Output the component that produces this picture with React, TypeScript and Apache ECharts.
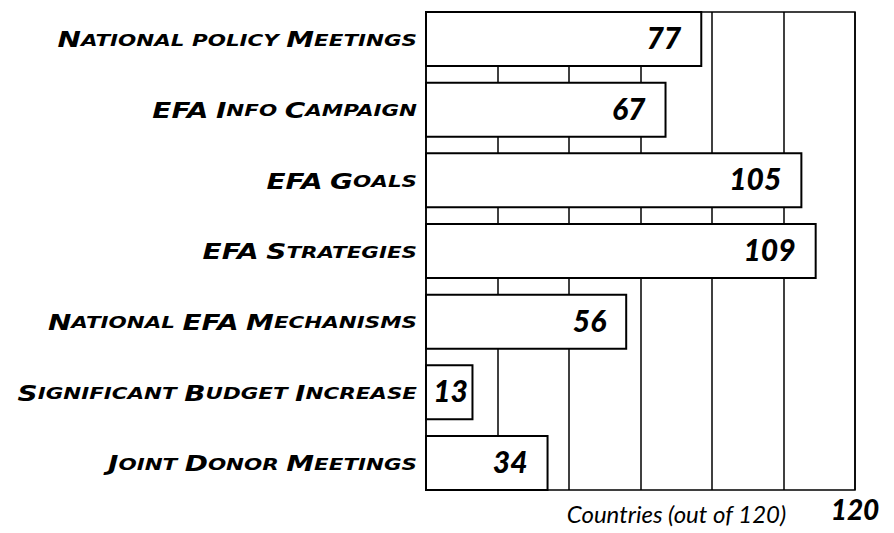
import React, { useEffect, useRef } from "react";
import * as echarts from "echarts";

const categories = [
  "National policy Meetings",
  "EFA Info Campaign",
  "EFA Goals",
  "EFA Strategies",
  "National EFA Mechanisms",
  "Significant Budget Increase",
  "Joint Donor Meetings",
];
const values = [77, 67, 105, 109, 56, 13, 34];
const axisMax = 120;
const axisInterval = 20;
const axisName = "Countries (out of 120)";

const NUM_FONT = "Lato, 'Open Sans', sans-serif";
const CAT_FONT = "'DejaVu Sans', Verdana, sans-serif";
const BAR_SPAN = 0.764;

function smallCaps(s: string): string {
  let out = "";
  let cur = "";
  let curStyle = "";
  const flush = () => {
    if (cur) out += `{${curStyle}|${cur}}`;
    cur = "";
  };
  for (const ch of s) {
    const isBig = ch >= "A" && ch <= "Z";
    const st = isBig ? "b" : "s";
    if (st !== curStyle) {
      flush();
      curStyle = st;
    }
    cur += isBig ? ch : ch.toUpperCase();
  }
  flush();
  return out;
}

export default function App() {
  const ref = useRef<HTMLDivElement>(null);
  useEffect(() => {
    if (!ref.current) return;
    const chart = echarts.init(ref.current, undefined, { renderer: "svg" });
    const data = values.map((v, i) => [i, v]);
    chart.setOption({
      animation: false,
      backgroundColor: "#fff",
      grid: {
        left: 426,
        right: 39,
        top: 12,
        bottom: 43,
        show: true,
        borderColor: "#000",
        borderWidth: 1.5,
        backgroundColor: "transparent",
        containLabel: false,
        outerBoundsMode: "none",
      },
      xAxis: {
        type: "value",
        min: 0,
        max: axisMax,
        interval: axisInterval,
        axisLine: { show: false },
        axisTick: { show: false },
        splitLine: { show: true, lineStyle: { color: "#000", width: 1.5 } },
        axisLabel: {
          formatter: (v: number) => (v === axisMax ? String(v) : ""),
          fontFamily: NUM_FONT,
          fontStyle: "italic",
          fontWeight: 900,
          fontSize: 28,
          color: "#000",
          margin: 5,
        },
        name: axisName,
        nameLocation: "middle",
        nameGap: 11,
        nameMoveOverlap: false,
        nameTextStyle: {
          fontFamily: NUM_FONT,
          fontStyle: "italic",
          fontSize: 24,
          color: "#000",
          padding: [0, 0, 0, 72],
          verticalAlign: "top",
        },
      },
      yAxis: {
        type: "value",
        inverse: true,
        min: -BAR_SPAN / 2,
        max: categories.length - 1 + BAR_SPAN / 2,
        show: false,
      },
      series: [
        {
          type: "custom",
          data,
          encode: { x: 1, y: 0 },
          clip: false,
          renderItem: (params: any, api: any) => {
            const i = api.value(0);
            const v = api.value(1);
            const start = api.coord([0, i]);
            const end = api.coord([v, i]);
            const h = api.size([0, BAR_SPAN])[1];
            const txt = String(v);
            const labelRight = Math.max(end[0] - 20, start[0] + 8 + 17 * txt.length);
            return {
              type: "group",
              children: [
                {
                  type: "rect",
                  shape: { x: start[0], y: start[1] - h / 2, width: end[0] - start[0], height: h },
                  style: { fill: "#fff", stroke: "#000", lineWidth: 2 },
                },
                {
                  type: "text",
                  style: {
                    text: txt,
                    x: labelRight,
                    y: end[1] - 2,
                    align: "right",
                    verticalAlign: "middle",
                    fontFamily: NUM_FONT,
                    fontStyle: "italic",
                    fontWeight: 900,
                    fontSize: 30,
                    fill: "#000",
                  },
                },
                {
                  type: "text",
                  x: start[0] - 9,
                  y: start[1] + 1,
                  scaleX: 1.3,
                  style: {
                    text: smallCaps(categories[i]),
                    x: 0,
                    y: 0,
                    align: "right",
                    verticalAlign: "middle",
                    rich: {
                      b: {
                        fontFamily: CAT_FONT,
                        fontStyle: "italic",
                        fontWeight: "bold",
                        fontSize: 21.5,
                        fill: "#000",
                        color: "#000",
                      },
                      s: {
                        fontFamily: CAT_FONT,
                        fontStyle: "italic",
                        fontWeight: "bold",
                        fontSize: 16.5,
                        fill: "#000",
                        color: "#000",
                      },
                    },
                  },
                },
              ],
            };
          },
        },
      ],
    });
    return () => chart.dispose();
  }, []);
  return <div ref={ref} style={{ width: 894, height: 533, position: "absolute", left: 0, top: 0 }} />;
}
